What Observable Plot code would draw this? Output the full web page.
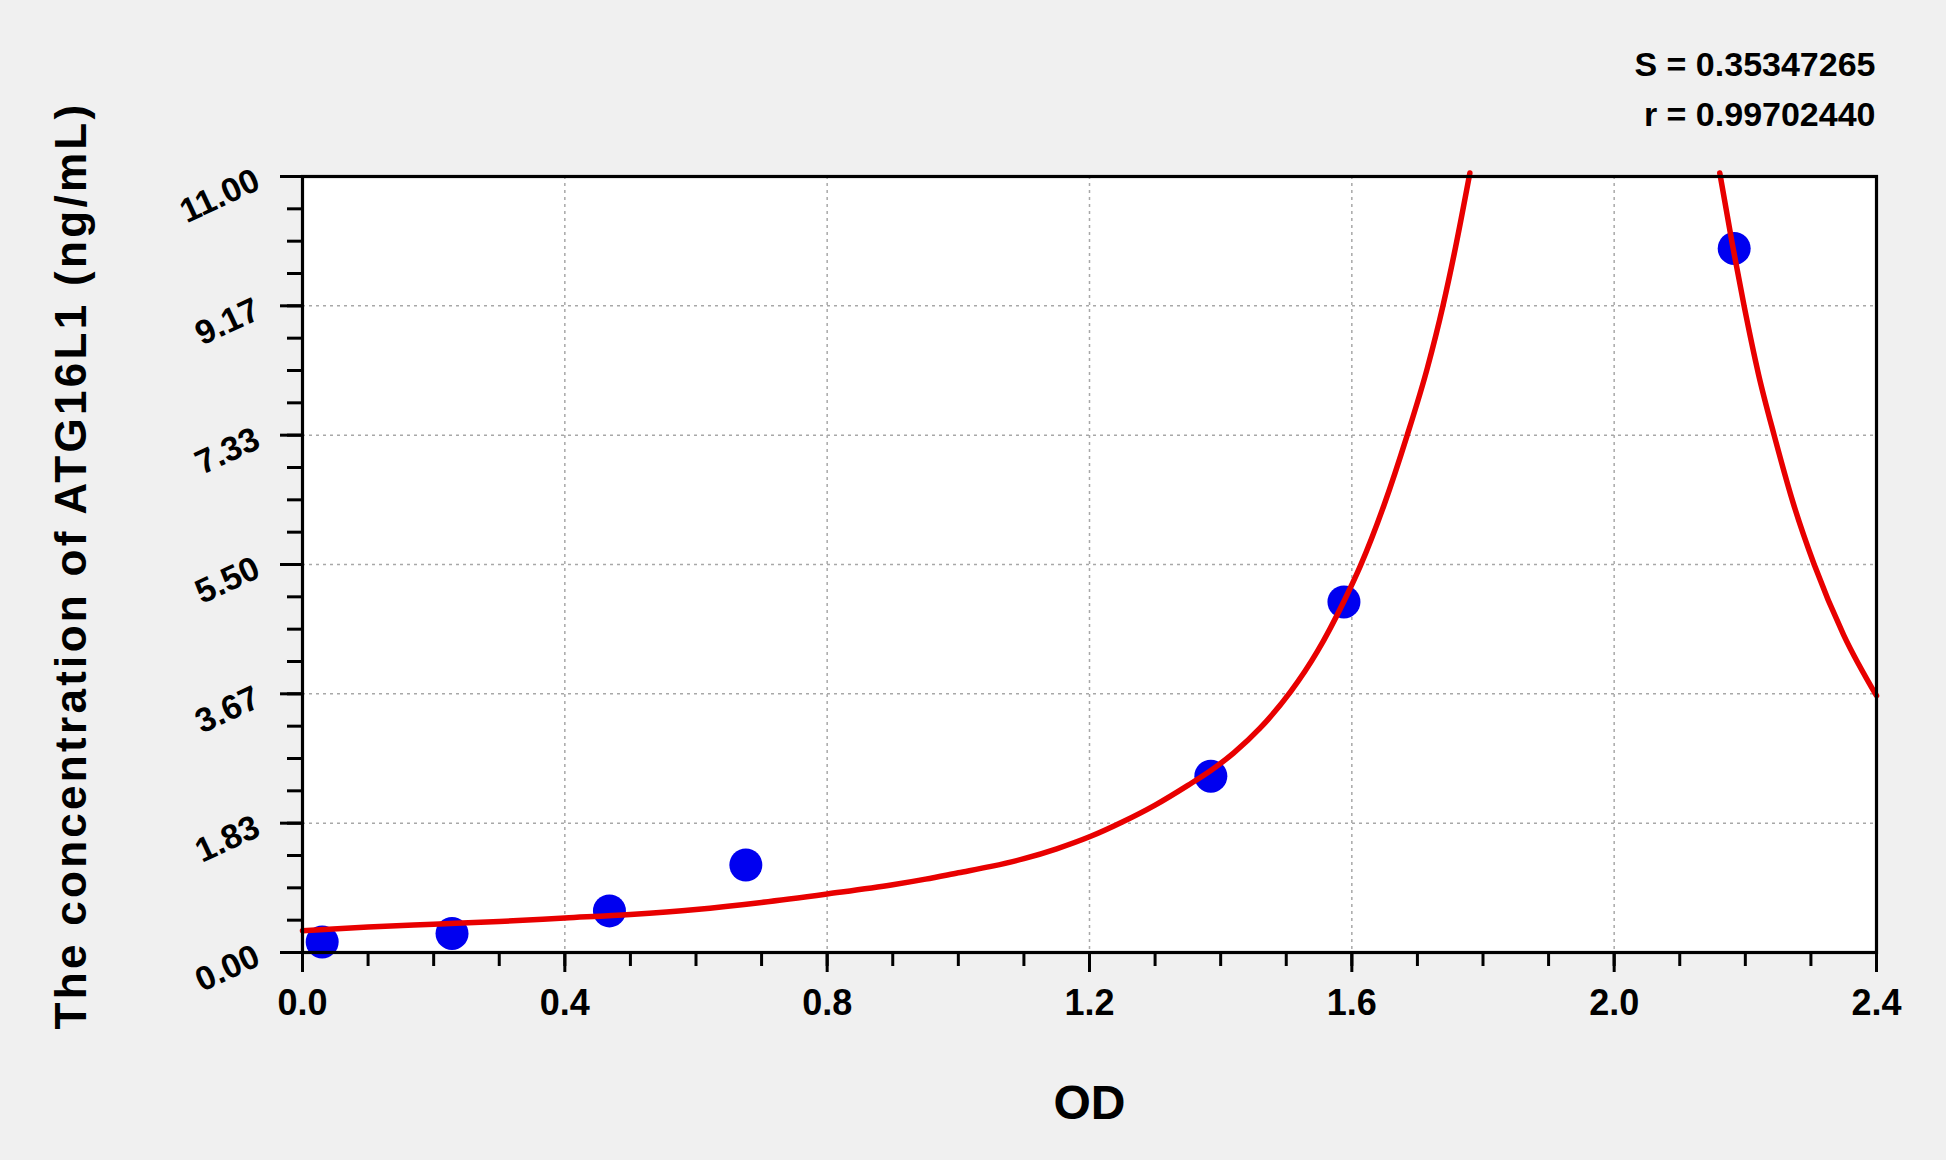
<!DOCTYPE html>
<html>
<head>
<meta charset="utf-8">
<script src="https://cdn.jsdelivr.net/npm/d3@7"></script>
<script src="https://cdn.jsdelivr.net/npm/@observablehq/plot@0.6"></script>
<style>
html, body { margin: 0; padding: 0; background: #f0f0f0; }
#chart svg { display: block; }
</style>
</head>
<body>
<div id="chart"></div>
<script>
// Standard points (OD, concentration ng/mL)
const pointOD   = [0.030, 0.228, 0.468, 0.676, 1.385, 1.588, 2.183];
const pointConc = [0.15, 0.27, 0.59, 1.24, 2.50, 4.97, 9.98];

// Fitted curve, left branch
const curveLeftOD   = [0.00, 0.10, 0.20, 0.30, 0.40, 0.50, 0.60, 0.70, 0.80, 0.90, 0.95, 1.00, 1.05, 1.10, 1.15, 1.20, 1.25, 1.30, 1.35, 1.385, 1.42, 1.46, 1.507, 1.547, 1.588, 1.613, 1.649, 1.684, 1.715, 1.739, 1.756, 1.780];
const curveLeftConc = [0.31, 0.36, 0.40, 0.44, 0.49, 0.54, 0.61, 0.71, 0.83, 0.96, 1.04, 1.13, 1.22, 1.33, 1.47, 1.64, 1.85, 2.09, 2.37, 2.58, 2.83, 3.18, 3.70, 4.26, 4.98, 5.48, 6.34, 7.32, 8.28, 9.17, 9.90, 11.05];

// Fitted curve, right branch
const curveRightOD   = [2.161, 2.180, 2.198, 2.220, 2.244, 2.273, 2.305, 2.350, 2.400];
const curveRightConc = [11.05, 10.05, 9.17, 8.20, 7.33, 6.37, 5.50, 4.50, 3.64];

// Axes
const xMajorTicks = [0, 0.4, 0.8, 1.2, 1.6, 2.0, 2.4];
const xTickLabels = ["0.0", "0.4", "0.8", "1.2", "1.6", "2.0", "2.4"];
const yMajorTicks = [0, 1.8333, 3.6667, 5.5, 7.3333, 9.1667, 11];
const yTickLabels = ["0.00", "1.83", "3.67", "5.50", "7.33", "9.17", "11.00"];
const xMinorTicks = d3.range(0, 2.4001, 0.1);
const yMinorTicks = d3.range(0, 11.0001, 11 / 24);

const xTitle = "OD";
const yTitle = "The concentration of ATG16L1 (ng/mL)";
const statLines = ["S = 0.35347265", "r = 0.99702440"];

const points = pointOD.map((od, i) => ({od, conc: pointConc[i]}));
const curveLeft = curveLeftOD.map((od, i) => ({od, conc: curveLeftConc[i]}));
const curveRight = curveRightOD.map((od, i) => ({od, conc: curveRightConc[i]}));

const font = "'Liberation Sans', Arial, Helvetica, sans-serif";
const gridStyle = {stroke: "#a8a8a8", strokeOpacity: 1, strokeWidth: 1.5, strokeDasharray: "3,4"};
const red = "#e80000";

const chart = Plot.plot({
  width: 1946,
  height: 1160,
  marginLeft: 302,
  marginRight: 70,
  marginTop: 176,
  marginBottom: 208,
  style: {background: "#f0f0f0", fontFamily: font, fontWeight: "bold", color: "black"},
  x: {domain: [0, 2.4]},
  y: {domain: [0, 11]},
  marks: [
    Plot.frame({fill: "white"}),
    Plot.gridX(xMajorTicks.slice(1, -1), gridStyle),
    Plot.gridY(yMajorTicks.slice(1, -1), gridStyle),
    Plot.dot(points, {x: "od", y: "conc", r: 16.5, fill: "#0000f0", stroke: "none"}),
    Plot.line(curveLeft, {x: "od", y: "conc", stroke: red, strokeWidth: 5.5, curve: "monotone-x"}),
    Plot.line(curveRight, {x: "od", y: "conc", stroke: red, strokeWidth: 5.5, curve: "monotone-x"}),
    Plot.frame({stroke: "black", strokeWidth: 3.2}),
    Plot.axisX(xMinorTicks, {tickSize: 14, strokeWidth: 3, tickFormat: () => "", label: null}),
    Plot.axisX(xMajorTicks, {tickSize: 20, tickPadding: 17, strokeWidth: 3, fontSize: 36, fontWeight: "bold",
      tickFormat: d => xTickLabels[xMajorTicks.indexOf(d)], label: null}),
    Plot.axisY(yMinorTicks, {tickSize: 15, strokeWidth: 3, tickFormat: () => "", label: null}),
    Plot.axisY(yMajorTicks, {tickSize: 22, strokeWidth: 3, tickFormat: () => "", label: null}),
    Plot.text(yMajorTicks, {y: d => d, text: (d, i) => yTickLabels[i], frameAnchor: "left", dx: -45, dy: 2,
      textAnchor: "end", lineAnchor: "middle", rotate: -25, fontSize: 34, fontWeight: "bold"}),
    Plot.text([xTitle], {text: d => d, frameAnchor: "bottom", dy: 166, textAnchor: "middle", lineAnchor: "bottom", fontSize: 48, fontWeight: "bold"}),
    Plot.text([yTitle], {text: d => d, frameAnchor: "left", dx: -217, dy: 1, rotate: -90, textAnchor: "middle", lineAnchor: "bottom", fontSize: 44, fontWeight: "bold"}),
    Plot.text([statLines.join("\n")], {text: d => d, frameAnchor: "top-right", dx: -1, dy: -51, textAnchor: "end",
      lineAnchor: "bottom", lineHeight: 1.47, fontSize: 34, fontWeight: "bold"})
  ]
});

d3.select(chart).selectAll("text").filter(function() { return this.textContent === yTitle; })
  .attr("letter-spacing", "3.3px");

document.getElementById("chart").appendChild(chart);
</script>
</body>
</html>
